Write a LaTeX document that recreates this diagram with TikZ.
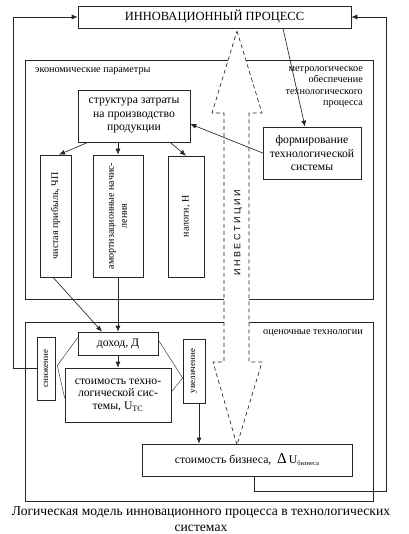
\documentclass[tikz,border=0pt]{standalone}
\usepackage{fontspec}
\setmainfont{Liberation Serif}
\newfontfamily\sansf{Liberation Sans}
\usetikzlibrary{arrows.meta}
\begin{document}
\begin{tikzpicture}[x=1pt,y=-1pt,
  line/.style={draw=black!85, line width=0.65pt},
  box/.style={line, rectangle, inner sep=1pt, align=center, font=\fontsize{11.7}{13.5}\selectfont},
  arr/.style={line, -{Latex[length=6pt,width=5pt]}},
  vtext/.style={rotate=90, align=center, inner sep=0pt, font=\fontsize{10}{13}\selectfont},
  small/.style={inner sep=0pt, font=\fontsize{10.2}{11.5}\selectfont},
  thinl/.style={draw=black!80, line width=0.45pt}]
\useasboundingbox (0,0) rectangle (408,534);
% frames
\draw[line] (25,60) rectangle (373,299);
\draw[line] (25,322) rectangle (373,501);
% labels
\node[small, anchor=west] (econlbl) at (35,71) {экономические параметры};
\node[small, anchor=north east, align=right] (metlbl) at (363,66) {метрологическое\\обеспечение\\технологического\\процесса};
\node[small, anchor=east] (otslbl) at (363,333) {оценочные технологии};
% top
\node[box, minimum width=273pt, minimum height=22pt, font=\fontsize{12.5}{14}\selectfont] (top) at (214.5,17) {ИННОВАЦИОННЫЙ ПРОЦЕСС};
% investment arrow
\draw[line, dash pattern=on 4pt off 3pt, fill=white] (237,31) -- (262,113) -- (249,113) -- (249,362) -- (262,362) -- (237,445) -- (213,362) -- (224,362) -- (224,113) -- (212,113) -- cycle;
\node[rotate=90, inner sep=0pt, font=\sansf\fontsize{9}{9}\selectfont] (inv) at (238,233) {И Н В Е С Т И Ц И И};
% boxes
\node[box, minimum width=112pt, minimum height=52pt] (struk) at (134,116) {структура затраты\\на производство\\продукции};
\node[box, minimum width=98pt, minimum height=52pt] (form) at (312,153) {формирование\\технологической\\системы};
\node[box, minimum width=31pt, minimum height=122pt] (b1) at (55.5,216) {};
\node[vtext] (t1) at (b1) {чистая прибыль, ЧП};
\node[box, minimum width=50pt, minimum height=122pt] (b2) at (118,216) {};
\node[vtext] (t2) at (b2) {амортизационные начис-\\ления};
\node[box, minimum width=36pt, minimum height=121pt] (b3) at (186,216.5) {};
\node[vtext] (t3) at (b3) {налоги, Н};
\node[box, minimum width=80pt, minimum height=23pt] (dohod) at (118,343.5) {доход, Д};
\node[box, minimum width=106pt, minimum height=54pt, font=\fontsize{11.7}{12.5}\selectfont] (stoim) at (118,395) {стоимость техно-\\логической сис-\\темы, U\textsubscript{ТС}};
\node[box, minimum width=18pt, minimum height=63pt] (snizh) at (46,368.5) {};
\node[vtext, font=\fontsize{9}{11}\selectfont] (ts) at (snizh) {снижение};
\node[box, minimum width=22pt, minimum height=64pt] (uvel) at (194,371) {};
\node[vtext, font=\fontsize{9}{11}\selectfont] (tu) at (uvel) {увеличение};
\node[box, minimum width=210pt, minimum height=32pt] (biz) at (247,460) {стоимость бизнеса,~~{\fontsize{15}{15}\selectfont Δ}\,U\raisebox{-0.4ex}{\fontsize{6.5}{7}\selectfont бизнеса}};
% caption
\node[inner sep=0pt, align=center, font=\fontsize{13.6}{16}\selectfont] (cap) at (201,519) {Логическая модель инновационного процесса в технологических\\системах};
% connectors
\coordinate (L) at (13,18);
\coordinate (R) at (386,491);
\draw[arr] (snizh.west) -- (snizh.west -| L) -- (top.west -| L) -- (top.west);
\draw[arr] ([xshift=7pt]biz.south) |- (R) |- (top.east);
\draw[arr] ([xshift=68.5pt]top.south) -- ([xshift=-7pt]form.north);
\draw[arr] (form.west) -- ([yshift=-8pt]struk.east);
\draw[arr] ([xshift=-46pt]struk.south) -- ([xshift=3.5pt]b1.north);
\draw[arr] ([xshift=-16pt]struk.south) -- (b2.north);
\draw[arr] ([xshift=36pt]struk.south) -- (b3.north);
\draw[arr] ([xshift=-2.5pt]b1.south) -- ([xshift=-16pt]dohod.north);
\draw[arr] (b2.south) -- (dohod.north);
\draw[arr] (dohod.south) -- (stoim.north);
\draw[arr] ([xshift=5pt]uvel.south) -- ([xshift=5pt]uvel.south |- biz.north);
\draw[thinl] ([yshift=-6pt]dohod.north west) -- ([xshift=2pt,yshift=3pt]snizh.east) -- ([yshift=-3pt]stoim.west);
\draw[thinl] ([yshift=3.5pt]dohod.east) -- ([yshift=-7pt]uvel.west) -- ([yshift=3pt]stoim.east);
\end{tikzpicture}
\end{document}
